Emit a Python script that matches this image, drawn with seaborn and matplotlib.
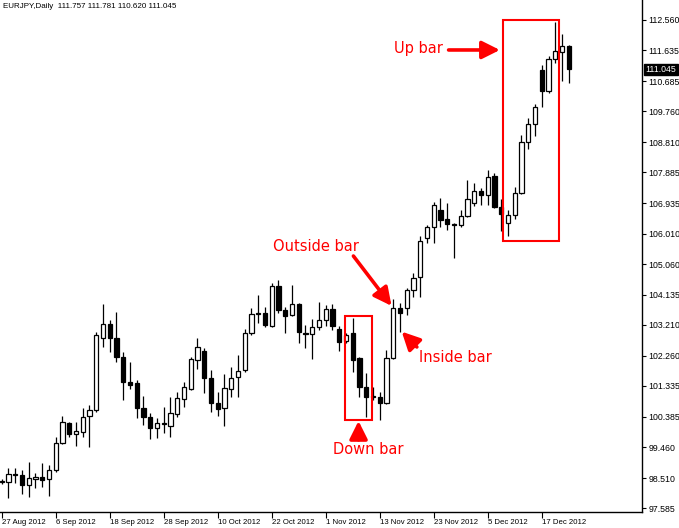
import matplotlib
matplotlib.use("Agg")
import matplotlib.pyplot as plt
from matplotlib.patches import Rectangle
import seaborn as sns
import pandas as pd
import numpy as np

# EURJPY daily bars, 27 Aug 2012 .. 21 Dec 2012
dates = pd.bdate_range("2012-08-27", "2012-12-21")
opens = [98.40, 98.40, 98.64, 98.60, 98.30, 98.48, 98.54, 98.48, 98.76, 99.58,
         100.20, 99.86, 99.92, 100.41, 100.60, 102.81, 103.24, 102.81, 102.22, 101.46,
         101.43, 100.66, 100.38, 100.04, 100.17, 100.11, 100.47, 100.93, 101.24, 102.13,
         102.41, 101.58, 100.81, 100.66, 101.24, 101.61, 101.82, 102.96, 103.54, 103.57,
         103.17, 104.40, 103.66, 103.51, 103.85, 102.96, 102.93, 103.14, 103.36, 103.70,
         103.08, 102.71, 102.96, 102.19, 101.30, 101.03, 101.00, 100.81, 102.19, 103.73,
         103.73, 104.28, 104.68, 105.87, 106.21, 106.73, 106.46, 106.30, 106.27, 106.55,
         106.95, 107.31, 107.19, 107.78, 106.82, 106.33, 106.58, 107.25, 108.82, 109.37,
         111.03, 110.38, 111.36, 111.58, 111.757]
highs = [98.48, 98.82, 98.82, 98.76, 99.00, 98.66, 98.97, 98.91, 99.77, 100.41,
         100.23, 100.23, 100.66, 100.75, 102.99, 103.85, 103.36, 103.60, 102.38, 102.07,
         101.52, 101.03, 100.50, 100.35, 100.69, 101.00, 101.15, 101.46, 102.22, 102.81,
         102.50, 101.82, 101.15, 101.70, 101.92, 102.28, 103.08, 103.73, 104.12, 103.76,
         104.49, 104.58, 103.76, 104.43, 103.88, 103.20, 103.39, 103.91, 103.82, 103.85,
         103.17, 102.96, 103.42, 102.22, 101.73, 101.30, 101.15, 102.44, 104.00, 103.88,
         104.34, 104.80, 105.93, 106.27, 106.98, 107.10, 106.95, 106.33, 106.73, 107.65,
         107.56, 107.41, 107.96, 107.87, 107.07, 106.73, 107.44, 109.03, 109.55, 109.98,
         111.18, 111.46, 112.50, 112.13, 111.781]
lows = [98.33, 97.90, 98.36, 98.02, 97.93, 98.20, 98.23, 97.96, 98.70, 99.55,
        99.77, 99.49, 99.77, 99.46, 100.54, 102.53, 102.38, 102.07, 100.90, 101.24,
        100.35, 100.14, 99.71, 99.74, 99.89, 99.77, 100.38, 100.69, 101.21, 101.85,
        101.12, 100.54, 100.41, 100.11, 101.00, 101.00, 101.76, 102.90, 103.27, 103.14,
        103.14, 103.57, 102.96, 103.48, 102.65, 102.50, 102.16, 103.05, 103.17, 103.05,
        102.41, 102.65, 101.76, 101.00, 100.38, 100.90, 100.29, 100.78, 102.16, 102.99,
        103.51, 104.06, 104.06, 105.72, 105.72, 106.21, 106.12, 105.26, 106.21, 106.52,
        106.85, 106.89, 106.89, 106.79, 106.09, 105.93, 106.46, 107.22, 108.60, 109.00,
        109.89, 110.32, 111.24, 110.69, 110.620]
closes = [98.41, 98.63, 98.60, 98.30, 98.51, 98.54, 98.45, 98.76, 99.58, 100.23,
          99.86, 99.95, 100.38, 100.60, 102.90, 103.24, 102.81, 102.22, 101.46, 101.36,
          100.66, 100.38, 100.04, 100.20, 100.20, 100.50, 100.97, 101.30, 102.16, 102.53,
          101.58, 100.81, 100.63, 101.27, 101.58, 101.79, 102.96, 103.54, 103.57, 103.20,
          104.40, 103.66, 103.48, 103.85, 102.99, 102.93, 103.14, 103.36, 103.70, 103.17,
          102.68, 102.90, 102.13, 101.30, 101.00, 101.00, 100.81, 102.19, 103.73, 103.57,
          104.28, 104.65, 105.78, 106.21, 106.89, 106.43, 106.30, 106.27, 106.55, 107.07,
          107.31, 107.19, 107.74, 106.82, 106.61, 106.58, 107.25, 108.82, 109.37, 109.89,
          110.38, 111.36, 111.61, 111.76, 111.045]

price_ticks = [97.585, 98.510, 99.460, 100.385, 101.335, 102.260, 103.210, 104.135,
               105.060, 106.010, 106.935, 107.885, 108.810, 109.760, 110.685, 111.635,
               112.560]
date_tick_step = 8

df = pd.DataFrame({"date": dates, "open": opens, "high": highs,
                   "low": lows, "close": closes})
df["x"] = np.arange(len(df))
df["up"] = df["close"] >= df["open"]

sns.set_theme(style="white")
plt.rcParams["font.family"] = ["Liberation Sans", "DejaVu Sans"]

fig = plt.figure(figsize=(6.79, 5.28), dpi=100)
ax = fig.add_axes([0, 16 / 528, 642 / 679, 512 / 528])

# wicks
ax.vlines(df["x"], df["low"], df["high"], color="black", lw=0.9, zorder=2)

# bodies
body_lo = df[["open", "close"]].min(axis=1)
body_h = (df["close"] - df["open"]).abs().clip(lower=0.03)
ax.bar(df["x"][df["up"]], body_h[df["up"]], bottom=body_lo[df["up"]], width=0.62,
       color="white", edgecolor="black", linewidth=0.9, zorder=3)
ax.bar(df["x"][~df["up"]], body_h[~df["up"]], bottom=body_lo[~df["up"]], width=0.62,
       color="black", edgecolor="black", linewidth=0.9, zorder=3)

ax.set_xlim(-0.25, 94.85)
ax.set_ylim(97.468, 113.173)

sns.despine(ax=ax, left=True, top=True, right=False, bottom=False)
for side in ("right", "bottom"):
    ax.spines[side].set_color("black")
    ax.spines[side].set_linewidth(1.0)

ax.yaxis.tick_right()
ax.set_yticks(price_ticks)
ax.set_yticklabels([f"{v:.3f}" for v in price_ticks])
ax.tick_params(axis="y", length=3, width=0.8, pad=1.5, labelsize=6.3,
               colors="black", direction="out", right=True, left=False)

tick_idx = df["x"][::date_tick_step]
ax.set_xticks(tick_idx)
ax.set_xticklabels([f"{d.day} {d.strftime('%b %Y')}" for d in df["date"][::date_tick_step]],
                   ha="left")
ax.tick_params(axis="x", length=4, width=0.8, pad=1, labelsize=5.6,
               colors="black", direction="out", bottom=True)
ax.set_xlabel("")
ax.set_ylabel("")

# current price label on the scale
last = df.iloc[-1]
ax.annotate(f"{last['close']:.3f}", xy=(1.0, last["close"]),
            xycoords=("axes fraction", "data"), xytext=(2.5, 0),
            textcoords="offset points", va="center", ha="left",
            fontsize=6.3, color="white",
            bbox=dict(boxstyle="square,pad=0.15", fc="black", ec="black"))

# header
ax.text(0.004, 0.995,
        f"EURJPY,Daily  {last['open']:.3f} {last['high']:.3f} {last['low']:.3f} {last['close']:.3f}",
        transform=ax.transAxes, ha="left", va="top", fontsize=5.8, color="black")

# annotations
red = "#ff0000"
arrow = dict(arrowstyle="-|>,head_length=0.6,head_width=0.3", color=red, lw=2.6,
             mutation_scale=18, shrinkA=0, shrinkB=0)
label_font = dict(color=red, fontsize=10.5, ha="center", va="center",
                  family="DejaVu Sans")

ax.add_patch(Rectangle((74.31, 105.79), 82.61 - 74.31, 112.56 - 105.79,
                       fill=False, ec=red, lw=1.5, zorder=4))
ax.add_patch(Rectangle((50.86, 100.29), 54.82 - 50.86, 103.49 - 100.29,
                       fill=False, ec=red, lw=1.5, zorder=4))

ax.text(61.7, 111.70, "Up bar", **label_font)
ax.annotate("", xy=(73.8, 111.64), xytext=(66.2, 111.64), arrowprops=arrow)

ax.text(46.56, 105.60, "Outside bar", **label_font)
ax.annotate("", xy=(57.75, 103.79), xytext=(52.1, 105.32), arrowprops=arrow)

ax.text(67.2, 102.22, "Inside bar", **label_font)
ax.annotate("", xy=(59.26, 103.0), xytext=(61.5, 102.53), arrowprops=arrow)

ax.text(54.3, 99.40, "Down bar", **label_font)
ax.annotate("", xy=(52.86, 100.26), xytext=(52.86, 99.68), arrowprops=arrow)

fig.savefig("out.png", dpi=100)
